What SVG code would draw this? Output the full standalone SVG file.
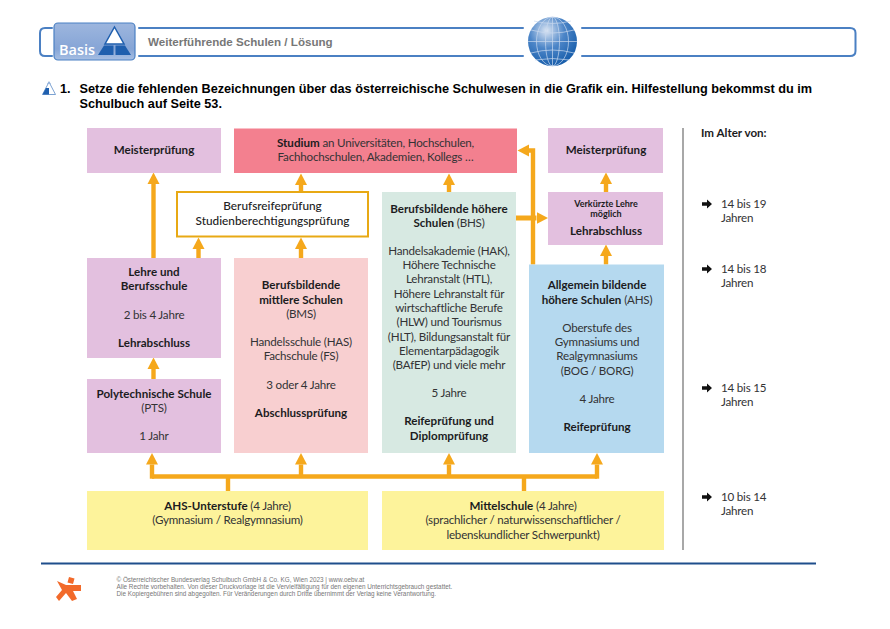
<svg xmlns="http://www.w3.org/2000/svg" width="890" height="629" viewBox="0 0 890 629">
<style>
text{font-family:Lato,"Open Sans",sans-serif;font-size:11.6px;letter-spacing:-0.2px;fill:#333335;text-anchor:middle}
tspan{letter-spacing:-0.2px}
.b{font-weight:700;fill:#1c1c1e;letter-spacing:0}
.m{font-weight:500;fill:#222;font-size:11.8px;letter-spacing:0}
.h{font-family:"Liberation Sans",Arial,sans-serif;font-weight:700;font-size:12.7px;letter-spacing:0;fill:#000;text-anchor:start}
.f{font-family:"Liberation Sans",Arial,sans-serif;font-size:6.35px;letter-spacing:0;fill:#777;text-anchor:start}
.l{text-anchor:start}
.a{fill:none;stroke:#f5a81c;stroke-width:4.4}
.hd{fill:none;stroke:#4b80c3;stroke-width:2;stroke-linecap:round}
</style>
<defs>
<marker id="ah" markerUnits="userSpaceOnUse" markerWidth="14" markerHeight="14" refX="0" refY="7" orient="auto"><path d="M0,1 L11.5,7 L0,13 Z" fill="#f5a81c"/></marker>
<radialGradient id="gl" cx="0.38" cy="0.28" r="0.8"><stop offset="0" stop-color="#dbe5f3"/><stop offset="0.45" stop-color="#4d86c8"/><stop offset="1" stop-color="#0f57a6"/></radialGradient>
<linearGradient id="lg" x1="0" y1="0" x2="0" y2="1"><stop offset="0" stop-color="#9db6de"/><stop offset="0.7" stop-color="#86a5d6"/><stop offset="1" stop-color="#a7bfe3"/></linearGradient>
<path id="ba" d="M0,-1.8 H5 V-4.4 L10,0 L5,4.400 V1.800 H0 Z" fill="#111"/>
</defs>
<rect width="890" height="629" fill="#fff"/>

<g id="header">
<path class="hd" d="M52,28 H45 Q40,28 40,33 V51 Q40,56 45,56 H52"/>
<path class="hd" d="M139,28 H523 M139,56 H523 M582,28 H850 Q855.500,28 855.500,33 V51 Q855.500,56 850,56 H582"/>
<rect x="54" y="23" width="81" height="37" rx="4" fill="url(#lg)" stroke="#4b80c3" stroke-width="1.200"/>
<polygon points="114.500,27 124,44 105,44" fill="#fff" stroke="#1f5fae" stroke-width="1.500"/>
<polygon points="104,45.500 113.500,45.500 113.500,55 98,55" fill="#1f5fae"/>
<polygon points="115.500,45.500 125,45.500 131,55 115.500,55" fill="#1f5fae"/>
<text x="59" y="54.500" class="l" style="font-family:'Open Sans',sans-serif;font-size:14.500px;font-weight:600;letter-spacing:0;fill:#fff">Basis</text>
<text x="148" y="46" class="h" style="font-size:11.600px;fill:#777">Weiterführende Schulen / Lösung</text>
<circle cx="552.500" cy="41.500" r="24.500" fill="url(#gl)"/>
<g fill="none" stroke="#c9d9ee" stroke-width="0.700">
<ellipse cx="552.500" cy="41.500" rx="16" ry="24.500"/>
<ellipse cx="552.500" cy="41.500" rx="7" ry="24.500"/>
<path d="M552.500,17 V66 M528,41.500 H577 M531,30 Q552.500,36 574,30 M534,21 Q552.500,26 571,21 M531,53 Q552.500,47 574,53 M535,60 Q552.500,57 570,60"/>
</g>
</g>

<g id="task">
<polygon points="49,82 55.500,94.500 42.500,94.500" fill="#fff" stroke="#5b8ac7" stroke-width="0.800"/>
<polygon points="46,88 49,88 49,94.500 42.500,94.500" fill="#1f5fae"/>
<polygon points="47,84 51,84 49,81" fill="#9ab7dd"/>
<text x="60" y="93" class="h">1.</text>
<text x="79.500" y="93" class="h">Setze die fehlenden Bezeichnungen über das österreichische Schulwesen in die Grafik ein. Hilfestellung bekommst du im</text>
<text x="79.500" y="108" class="h">Schulbuch auf Seite 53.</text>
</g>

<g id="connectors">
<path class="a" d="M153.500,258 V184" marker-end="url(#ah)"/>
<path class="a" d="M153.500,379 V369" marker-end="url(#ah)"/>
<path class="a" d="M198.500,258 V249" marker-end="url(#ah)"/>
<path class="a" d="M301,258 V249" marker-end="url(#ah)"/>
<path class="a" d="M301,192 V185" marker-end="url(#ah)"/>
<path class="a" d="M449,192 V185" marker-end="url(#ah)"/>
<path class="a" d="M533,264.500 V150.500 H529" marker-end="url(#ah)"/>
<path class="a" d="M515,218 H536.500" marker-end="url(#ah)" style="stroke-width:5"/>
<path class="a" d="M606,264.500 V256" marker-end="url(#ah)"/>
<path class="a" d="M606,192 V184" marker-end="url(#ah)"/>
<path class="a" d="M228,491 V476.500 M524,491 V476.500"/>
<path class="a" d="M152,476.500 H597"/>
<path class="a" d="M152,478.700 V464.500" marker-end="url(#ah)"/>
<path class="a" d="M301,476 V464.500" marker-end="url(#ah)"/>
<path class="a" d="M449,476 V464.500" marker-end="url(#ah)"/>
<path class="a" d="M597,478.700 V464.500" marker-end="url(#ah)"/>
</g>

<g id="meister-left"><rect x="87" y="128" width="134" height="45" fill="#e3c0df"/>
<text x="154" y="154" class="b">Meisterprüfung</text></g>

<g id="studium"><rect x="234" y="128.500" width="283" height="44.500" fill="#f3808f"/>
<text x="375.500" y="147"><tspan class="b">Studium</tspan> an Universitäten, Hochschulen,</text>
<text x="375.500" y="161">Fachhochschulen, Akademien, Kollegs …</text></g>

<g id="berufsreife"><rect x="177" y="192" width="191" height="44.500" fill="#fff" stroke="#e8a914" stroke-width="2"/>
<text x="272.500" y="210" class="m">Berufsreifeprüfung</text>
<text x="272.500" y="224.500" class="m">Studienberechtigungsprüfung</text></g>

<g id="lehre"><rect x="87" y="258" width="134" height="100" fill="#e3c0df"/>
<text x="154" y="276" class="b">Lehre und</text>
<text x="154" y="290" class="b">Berufsschule</text>
<text x="154" y="319">2 bis 4 Jahre</text>
<text x="154" y="347" class="b">Lehrabschluss</text></g>

<g id="pts"><rect x="87" y="379" width="134" height="74" fill="#e3c0df"/>
<text x="154" y="398" class="b">Polytechnische Schule</text>
<text x="154" y="412">(PTS)</text>
<text x="154" y="440">1 Jahr</text></g>

<g id="bms"><rect x="234" y="258" width="134" height="195" fill="#f8cfd0"/>
<text x="301" y="289" class="b">Berufsbildende</text>
<text x="301" y="303.500" class="b">mittlere Schulen</text>
<text x="301" y="318">(BMS)</text>
<text x="301" y="346">Handelsschule (HAS)</text>
<text x="301" y="360">Fachschule (FS)</text>
<text x="301" y="389">3 oder 4 Jahre</text>
<text x="301" y="417" class="b">Abschlussprüfung</text></g>

<g id="bhs"><rect x="382" y="192" width="134" height="261" fill="#d7e9e2"/>
<text x="449" y="213" class="b">Berufsbildende höhere</text>
<text x="449" y="227"><tspan class="b">Schulen</tspan> (BHS)</text>
<text x="449" y="255">Handelsakademie (HAK),</text>
<text x="449" y="269">Höhere Technische</text>
<text x="449" y="283">Lehranstalt (HTL),</text>
<text x="449" y="298">Höhere Lehranstalt für</text>
<text x="449" y="312">wirtschaftliche Berufe</text>
<text x="449" y="326">(HLW) und Tourismus</text>
<text x="449" y="341">(HLT), Bildungsanstalt für</text>
<text x="449" y="355">Elementarpädagogik</text>
<text x="449" y="369">(BAfEP) und viele mehr</text>
<text x="449" y="397">5 Jahre</text>
<text x="449" y="425" class="b">Reifeprüfung und</text>
<text x="449" y="440" class="b">Diplomprüfung</text></g>

<g id="meister-right"><rect x="548" y="128" width="115" height="45" fill="#e3c0df"/>
<text x="606" y="154" class="b">Meisterprüfung</text></g>

<g id="verkuerzt"><rect x="548" y="192" width="115" height="53" fill="#e3c0df"/>
<text x="606" y="207" class="b" style="font-size:9px">Verkürzte Lehre</text>
<text x="606" y="217" class="b" style="font-size:9px">möglich</text>
<text x="606" y="235" class="b">Lehrabschluss</text></g>

<g id="ahs"><rect x="529" y="264.500" width="135" height="188.500" fill="#b5d9ef"/>
<text x="597" y="289" class="b">Allgemein bildende</text>
<text x="597" y="304"><tspan class="b">höhere Schulen</tspan> (AHS)</text>
<text x="597" y="332">Oberstufe des</text>
<text x="597" y="346">Gymnasiums und</text>
<text x="597" y="360">Realgymnasiums</text>
<text x="597" y="375">(BOG / BORG)</text>
<text x="597" y="402.500">4 Jahre</text>
<text x="597" y="431" class="b">Reifeprüfung</text></g>

<g id="ahs-unterstufe"><rect x="87" y="491" width="281" height="59" fill="#fdf39b"/>
<text x="227.500" y="509.500"><tspan class="b">AHS-Unterstufe</tspan> (4 Jahre)</text>
<text x="227.500" y="524">(Gymnasium / Realgymnasium)</text></g>

<g id="mittelschule"><rect x="382" y="491" width="282" height="59" fill="#fdf39b"/>
<text x="523" y="509.500"><tspan class="b">Mittelschule</tspan> (4 Jahre)</text>
<text x="523" y="524">(sprachlicher / naturwissenschaftlicher /</text>
<text x="523" y="538.500">lebenskundlicher Schwerpunkt)</text></g>

<g id="age">
<path d="M683,128 V550" stroke="#a8a8a8" stroke-width="2" fill="none"/>
<text x="701" y="137" class="b l">Im Alter von:</text>
<use href="#ba" x="702" y="204"/>
<text x="721" y="208" class="l">14 bis 19</text><text x="721" y="222" class="l">Jahren</text>
<use href="#ba" x="702" y="269"/>
<text x="721" y="273" class="l">14 bis 18</text><text x="721" y="287" class="l">Jahren</text>
<use href="#ba" x="702" y="388"/>
<text x="721" y="392" class="l">14 bis 15</text><text x="721" y="406" class="l">Jahren</text>
<use href="#ba" x="702" y="497"/>
<text x="721" y="501" class="l">10 bis 14</text><text x="721" y="515" class="l">Jahren</text>
</g>

<g id="footer">
<path d="M41,563.500 H816" stroke="#1f4e8c" stroke-width="2" fill="none"/>
<g fill="#f26a2a">
<polygon points="69,577 74.500,578.500 73,584 67.500,582.500"/>
<polygon points="57,581 66,585 81,585 81,591 73,591 77,599 72,601 66,593 59,601 56,597 62,590"/>
</g>
<text x="116.500" y="582" class="f">© Österreichischer Bundesverlag Schulbuch GmbH &amp; Co. KG, Wien 2023 | www.oebv.at</text>
<text x="116.500" y="589" class="f">Alle Rechte vorbehalten. Von dieser Druckvorlage ist die Vervielfältigung für den eigenen Unterrichtsgebrauch gestattet.</text>
<text x="116.500" y="596" class="f">Die Kopiergebühren sind abgegolten. Für Veränderungen durch Dritte übernimmt der Verlag keine Verantwortung.</text>
</g>
</svg>
